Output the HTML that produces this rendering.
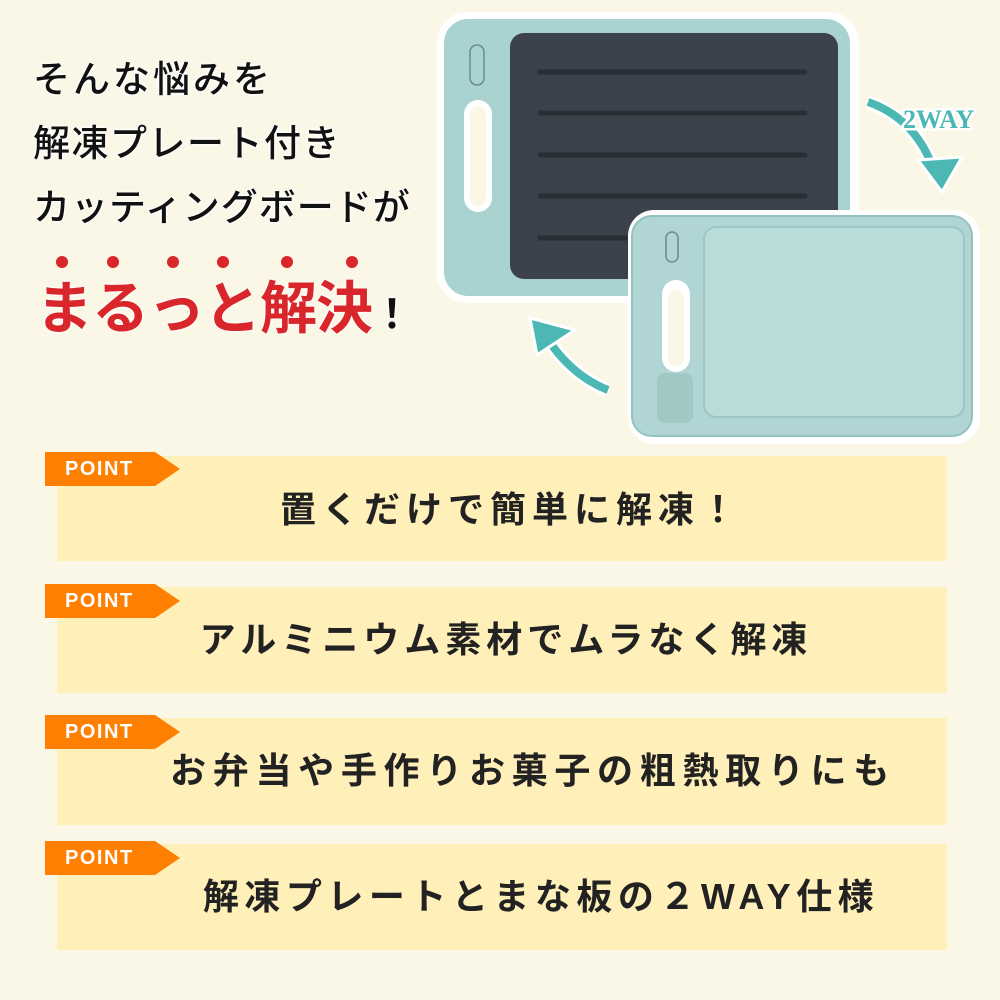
<!DOCTYPE html>
<html><head><meta charset="utf-8"><style>
*{margin:0;padding:0}
body{width:1000px;height:1000px;background:#fbf7e6;position:relative;overflow:hidden;font-family:"Liberation Sans","Noto Sans CJK JP",sans-serif}
.box{position:absolute;left:57px;width:890px;background:#ffefb9}
.tag{position:absolute;left:45px;width:110px;height:34px;background:#ff7f00;color:#fff;font-weight:bold;font-size:20px;line-height:34px;padding-left:20px;box-sizing:border-box;letter-spacing:1.5px}
.tag:after{content:"";position:absolute;left:110px;top:0;border-left:25px solid #ff7f00;border-top:17px solid transparent;border-bottom:17px solid transparent}
.t{position:absolute;width:890px;text-align:center;font-size:36px;font-weight:bold;color:#222;white-space:nowrap;line-height:40px}
.l{position:absolute;left:33px;font-size:37px;color:#111;font-weight:500;white-space:nowrap;text-shadow:0 0 3px #fff,0 0 3px #fff,0 0 3px #fff;line-height:44px}
.dot{position:absolute;top:256px;width:12px;height:12px;border-radius:50%;background:#d9262a}
</style></head><body>
<div class="l" style="top:58px;letter-spacing:3px">そんな悩みを</div>
<div class="l" style="top:122px;letter-spacing:1.5px">解凍プレート付き</div>
<div class="l" style="top:186px;letter-spacing:1px">カッティングボードが</div>
<div class="dot" style="left:56px"></div><div class="dot" style="left:107px"></div><div class="dot" style="left:167px"></div><div class="dot" style="left:217px"></div><div class="dot" style="left:281px"></div><div class="dot" style="left:346px"></div>
<div style="position:absolute;left:36px;top:276px;font-size:57px;font-weight:bold;color:#d9262a;white-space:nowrap;line-height:66px;letter-spacing:-1px;text-shadow:0 0 3px #fff,0 0 3px #fff">まるっと解決<span style="color:#111;font-size:40px">！</span></div>

<svg style="position:absolute;left:0;top:0" width="1000" height="450">
<rect x="437" y="12" width="422" height="291" rx="30" fill="#fff"/>
<rect x="444" y="19" width="406" height="277" rx="24" fill="#a9d3d1"/>
<rect x="510" y="33" width="328" height="246" rx="14" fill="#3c424b"/>
<g stroke="#2a2f36" stroke-width="5" stroke-linecap="round"><line x1="540" y1="72" x2="805" y2="72"/><line x1="540" y1="113" x2="805" y2="113"/><line x1="540" y1="155" x2="805" y2="155"/><line x1="540" y1="196" x2="805" y2="196"/><line x1="540" y1="238" x2="805" y2="238"/></g>
<rect x="470" y="45" width="14" height="40" rx="7" fill="none" stroke="#6f8a88" stroke-width="1.5"/>
<rect x="464" y="100" width="28" height="112" rx="14" fill="#fff"/>
<rect x="470" y="106" width="16" height="100" rx="8" fill="#fbf7e6"/>
<path d="M868 102 Q920 120 937 180" stroke="#fff" stroke-width="14" fill="none"/>
<path d="M868 102 Q920 120 937 180" stroke="#4bb8b3" stroke-width="8" fill="none"/>
<polygon points="918,160 962,157 942,192" fill="#4bb8b3" stroke="#fff" stroke-width="3"/>
<text x="903" y="128" font-family="Liberation Serif,serif" font-weight="bold" font-size="26" fill="#4bb8b3" stroke="#fff" stroke-width="5" paint-order="stroke">2WAY</text>
<path d="M608 390 Q570 375 545 335" stroke="#fff" stroke-width="14" fill="none"/>
<path d="M608 390 Q570 375 545 335" stroke="#4bb8b3" stroke-width="8" fill="none"/>
<polygon points="530,318 575,330 537,355" fill="#4bb8b3" stroke="#fff" stroke-width="3"/>
<rect x="628" y="210" width="352" height="234" rx="26" fill="#fff"/>
<rect x="632" y="216" width="340" height="220" rx="20" fill="#b0d5d4" stroke="#93c2c0" stroke-width="2"/>
<rect x="704" y="227" width="260" height="190" rx="12" fill="#b9dbd9" stroke="#9bc6c4" stroke-width="2"/>
<rect x="666" y="232" width="12" height="30" rx="6" fill="none" stroke="#6f8a88" stroke-width="1.5"/>
<rect x="662" y="280" width="28" height="92" rx="14" fill="#fff"/>
<rect x="668" y="290" width="16" height="76" rx="8" fill="#fbf7e6"/>
<rect x="657" y="373" width="36" height="50" rx="8" fill="#a2c8c6"/>
</svg>

<div class="box" style="top:456px;height:105px"></div>
<div class="box" style="top:587px;height:106px"></div>
<div class="box" style="top:718px;height:107px"></div>
<div class="box" style="top:844px;height:106px"></div>
<div class="tag" style="top:452px">POINT</div>
<div class="tag" style="top:584px">POINT</div>
<div class="tag" style="top:715px">POINT</div>
<div class="tag" style="top:841px">POINT</div>
<div class="t" style="left:66px;top:490px;letter-spacing:6px">置くだけで簡単に解凍！</div>
<div class="t" style="left:61px;top:620px;letter-spacing:5px">アルミニウム素材でムラなく解凍</div>
<div class="t" style="left:88px;top:751px;letter-spacing:6.7px">お弁当や手作りお菓子の粗熱取りにも</div>
<div class="t" style="left:96px;top:877px;letter-spacing:5.5px">解凍プレートとまな板の２WAY仕様</div>
</body></html>
